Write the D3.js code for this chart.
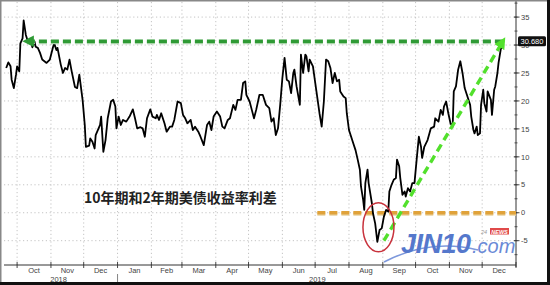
<!DOCTYPE html>
<html><head><meta charset="utf-8">
<script src="https://cdn.jsdelivr.net/npm/d3@7"></script>
<style>
html,body{margin:0;padding:0;background:#fff;}
svg{display:block;}
</style></head>
<body>
<svg id="c" width="550" height="285"></svg>
<script>
// ---- data ----
const dates = ["2018-09-21","2018-09-23","2018-09-25","2018-09-26","2018-09-28","2018-09-30","2018-10-01","2018-10-03","2018-10-04","2018-10-06","2018-10-07","2018-10-09","2018-10-11","2018-10-12","2018-10-14","2018-10-15","2018-10-17","2018-10-18","2018-10-20","2018-10-22","2018-10-24","2018-10-28","2018-10-31","2018-11-03","2018-11-04","2018-11-06","2018-11-07","2018-11-10","2018-11-12","2018-11-14","2018-11-16","2018-11-18","2018-11-20","2018-11-23","2018-11-25","2018-11-27","2018-11-30","2018-12-02","2018-12-03","2018-12-06","2018-12-07","2018-12-09","2018-12-11","2018-12-12","2018-12-16","2018-12-17","2018-12-19","2018-12-21","2018-12-23","2018-12-26","2018-12-28","2018-12-30","2018-12-31","2019-01-02","2019-01-04","2019-01-06","2019-01-09","2019-01-12","2019-01-15","2019-01-17","2019-01-19","2019-01-22","2019-01-24","2019-01-26","2019-01-28","2019-01-31","2019-02-02","2019-02-05","2019-02-06","2019-02-08","2019-02-10","2019-02-13","2019-02-15","2019-02-18","2019-02-20","2019-02-22","2019-02-25","2019-02-28","2019-03-02","2019-03-04","2019-03-06","2019-03-09","2019-03-11","2019-03-13","2019-03-16","2019-03-18","2019-03-21","2019-03-24","2019-03-26","2019-03-28","2019-03-30","2019-04-02","2019-04-05","2019-04-07","2019-04-09","2019-04-12","2019-04-14","2019-04-17","2019-04-19","2019-04-21","2019-04-24","2019-04-26","2019-04-28","2019-04-29","2019-05-02","2019-05-04","2019-05-06","2019-05-08","2019-05-11","2019-05-14","2019-05-17","2019-05-20","2019-05-22","2019-05-24","2019-05-26","2019-05-28","2019-05-30","2019-06-01","2019-06-03","2019-06-05","2019-06-07","2019-06-09","2019-06-11","2019-06-12","2019-06-14","2019-06-17","2019-06-18","2019-06-20","2019-06-22","2019-06-23","2019-06-25","2019-06-26","2019-06-29","2019-07-02","2019-07-05","2019-07-07","2019-07-09","2019-07-11","2019-07-13","2019-07-15","2019-07-17","2019-07-19","2019-07-21","2019-07-23","2019-07-24","2019-07-27","2019-07-29","2019-07-30","2019-08-01","2019-08-03","2019-08-05","2019-08-07","2019-08-09","2019-08-11","2019-08-12","2019-08-14","2019-08-15","2019-08-16","2019-08-18","2019-08-19","2019-08-22","2019-08-23","2019-08-25","2019-08-27","2019-08-29","2019-08-31","2019-09-02","2019-09-04","2019-09-06","2019-09-07","2019-09-09","2019-09-11","2019-09-13","2019-09-14","2019-09-16","2019-09-17","2019-09-19","2019-09-21","2019-09-22","2019-09-24","2019-09-26","2019-09-28","2019-09-30","2019-10-02","2019-10-04","2019-10-06","2019-10-07","2019-10-09","2019-10-12","2019-10-15","2019-10-18","2019-10-19","2019-10-22","2019-10-24","2019-10-26","2019-10-27","2019-10-29","2019-10-31","2019-11-02","2019-11-04","2019-11-05","2019-11-07","2019-11-09","2019-11-11","2019-11-13","2019-11-15","2019-11-17","2019-11-20","2019-11-21","2019-11-23","2019-11-24","2019-11-26","2019-11-27","2019-11-29","2019-11-30","2019-12-02","2019-12-03","2019-12-05","2019-12-06","2019-12-09","2019-12-10","2019-12-12","2019-12-13","2019-12-15","2019-12-16","2019-12-18","2019-12-20"];
const spread = [25.9,26.9,26.2,23.8,22.3,24.7,26.2,25.3,30.3,31.2,34.4,31.8,30.6,30.3,30.3,29.6,30.6,29.7,29.5,28.6,27.4,26.8,27.4,29.7,30.3,29.1,29.5,26.5,25.0,25.9,25.6,27.4,25.3,22.5,22.3,24.7,20.2,15.7,11.8,12.0,13.3,12.7,11.5,13.9,15.7,17.2,10.9,13.0,16.9,19.9,20.2,19.0,15.1,17.2,15.7,16.6,16.3,17.2,18.5,16.9,15.1,15.3,15.1,13.6,16.9,18.5,17.2,16.9,17.5,16.6,17.8,16.0,14.5,15.4,15.4,16.6,19.9,19.6,17.5,16.9,16.0,16.6,14.8,15.4,14.5,13.6,12.1,15.7,16.3,14.8,17.2,18.1,17.2,15.4,15.1,16.6,16.9,19.3,18.4,20.2,20.2,23.2,23.5,21.1,19.9,18.4,16.9,18.4,21.1,21.1,19.3,18.7,16.3,16.9,13.9,15.1,19.3,24.1,27.7,23.8,23.5,21.4,25.0,25.6,22.6,19.3,28.3,25.0,28.3,28.0,25.3,27.4,26.2,22.0,17.8,15.4,19.9,27.4,27.1,25.9,23.2,25.0,23.5,23.8,21.7,20.8,20.5,17.8,14.8,13.6,12.4,11.2,9.5,7.7,4.7,2.3,0.5,5.3,7.7,5.3,1.7,-0.1,-1.9,-5.2,-3.1,-2.8,-0.7,0.5,0.2,3.8,5.0,5.9,6.2,9.5,8.3,6.2,3.2,3.8,2.9,4.4,3.8,5.3,5.3,9.5,13.6,11.8,9.8,11.8,13.0,15.1,15.4,16.9,16.3,18.4,17.5,19.0,19.9,17.8,16.0,15.4,21.7,22.6,25.6,27.1,25.0,22.3,21.1,19.3,17.2,14.8,14.2,15.4,13.9,14.2,19.3,22.0,19.6,18.1,21.7,20.2,17.5,22.0,22.6,25.0,26.8,29.2,30.68];
const yTicks = [-5,0,5,10,15,20,25,30,35];
const monthLabels = ["Oct","Nov","Dec","Jan","Feb","Mar","Apr","May","Jun","Jul","Aug","Sep","Oct","Nov","Dec"];
const monthStarts = ["2018-10-01","2018-11-01","2018-12-01","2019-01-01","2019-02-01","2019-03-01","2019-04-01","2019-05-01","2019-06-01","2019-07-01","2019-08-01","2019-09-01","2019-10-01","2019-11-01","2019-12-01","2020-01-01"];
const yearLabels = ["2018","2019"];
const yearLabelDates = ["2018-11-08","2019-07-03"];
const lastLabel = "30.680";
const title = "10年期和2年期美债收益率利差";

// ---- setup ----
const parse = d3.utcParse("%Y-%m-%d");
const data = dates.map((d,i)=>({date:parse(d), v:spread[i]}));
const W=550,H=285;
const L=4, R=516, T=2, B=265;
const x = d3.scaleUtc().domain([parse("2018-09-19"), parse("2020-01-01")]).range([L,R]);
const y = d3.scaleLinear().domain([-9.35,37.7]).range([B,T]);
const svg = d3.select("#c");
const FONT = "Liberation Sans, Arial, sans-serif";

svg.append("rect").attr("width",W).attr("height",H).attr("fill","#fff");

// gridlines
const grid = svg.append("g").attr("stroke","#b5b5b5").attr("stroke-width",0.8).attr("stroke-dasharray","1.2,2.6");
grid.selectAll("line.h").data(yTicks).join("line")
  .attr("x1",L).attr("x2",R).attr("y1",d=>y(d)).attr("y2",d=>y(d));
grid.selectAll("line.v").data(monthStarts.slice(0,-1)).join("line")
  .attr("x1",d=>x(parse(d))).attr("x2",d=>x(parse(d))).attr("y1",T).attr("y2",B);

// x axis
const xa = svg.append("g").attr("transform",`translate(0,${B})`);
xa.append("line").attr("x1",L).attr("x2",R).attr("stroke","#333").attr("stroke-width",1);
xa.selectAll("line.t").data(monthStarts).join("line")
  .attr("x1",d=>x(parse(d))).attr("x2",d=>x(parse(d))).attr("y1",-3).attr("y2",3)
  .attr("stroke","#333").attr("stroke-width",0.9);
xa.selectAll("text.m").data(monthLabels).join("text")
  .attr("x",(d,i)=>(x(parse(monthStarts[i]))+x(parse(monthStarts[i+1])))/2)
  .attr("y",8).attr("text-anchor","middle")
  .attr("font-family",FONT).attr("font-size",7.5).attr("fill","#444").text(d=>d);
xa.selectAll("text.y").data(yearLabels).join("text")
  .attr("x",(d,i)=>x(parse(yearLabelDates[i])))
  .attr("y",16.5).attr("text-anchor","middle")
  .attr("font-family",FONT).attr("font-size",7.5).attr("fill","#444").text(d=>d);
xa.append("line").attr("x1",x(parse("2019-01-01"))).attr("x2",x(parse("2019-01-01"))).attr("y1",9).attr("y2",19).attr("stroke","#666").attr("stroke-width",0.8);

// y axis right
const ya = svg.append("g").attr("transform",`translate(${R},0)`);
ya.append("line").attr("y1",0).attr("y2",B+2).attr("stroke","#333").attr("stroke-width",1);
const minor = d3.range(-7.5,37.6,2.5);
ya.selectAll("line.mn").data(minor).join("line")
  .attr("x1",-1.5).attr("x2",1.5).attr("y1",d=>y(d)).attr("y2",d=>y(d)).attr("stroke","#333").attr("stroke-width",0.8);
ya.selectAll("line.mj").data(yTicks).join("line")
  .attr("x1",-2).attr("x2",3.5).attr("y1",d=>y(d)).attr("y2",d=>y(d)).attr("stroke","#333").attr("stroke-width",0.9);
ya.selectAll("text").data(yTicks).join("text")
  .attr("x",5).attr("y",d=>y(d)+2.7).attr("font-family",FONT)
  .attr("font-size",7.5).attr("fill","#444").text(d=>d);

// annotations: shadows + dashed arrows
const defs = svg.append("defs");
function marker(id,color){
  defs.append("marker").attr("id",id).attr("viewBox","0 0 10 10").attr("refX",6).attr("refY",5)
    .attr("markerWidth",3.4).attr("markerHeight",3.4).attr("orient","auto-start-reverse")
    .append("path").attr("d","M0,0 L10,5 L0,10 z").attr("fill",color);
}
marker("ag","#2f9a35");
marker("al","#52e02c");
const last = data[data.length-1];

// orange zero line
const z0 = parse("2019-07-03");
svg.append("line").attr("x1",x(z0)).attr("x2",R).attr("y1",y(0)+1.2).attr("y2",y(0)+1.2)
  .attr("stroke","#e9d2a0").attr("stroke-width",3.6).attr("stroke-dasharray","8,4");
svg.append("line").attr("x1",x(z0)).attr("x2",R).attr("y1",y(0)).attr("y2",y(0))
  .attr("stroke","#e0a23a").attr("stroke-width",3.4).attr("stroke-dasharray","8,4");

// series line
svg.append("path").datum(data).attr("fill","none").attr("stroke","#000").attr("stroke-width",1.8)
  .attr("stroke-linejoin","round")
  .attr("d",d3.line().x(d=>x(d.date)).y(d=>y(d.v)));

// dark green horizontal arrow
const hStart = parse("2018-10-10");
svg.append("line").attr("x1",x(last.date)).attr("x2",x(hStart)).attr("y1",y(last.v)+1.3).attr("y2",y(last.v)+1.3)
  .attr("stroke","#a9d4a9").attr("stroke-width",3.6).attr("stroke-dasharray","8,4");
svg.append("line").attr("x1",x(last.date)).attr("x2",x(hStart)).attr("y1",y(last.v)).attr("y2",y(last.v))
  .attr("stroke","#2f9a35").attr("stroke-width",3.4).attr("stroke-dasharray","8,4").attr("marker-end","url(#ag)");

// lime diagonal arrow
const dStart = parse("2019-09-02");
svg.append("line").attr("x1",x(dStart)).attr("y1",y(-5)).attr("x2",x(last.date)).attr("y2",y(last.v))
  .attr("stroke","#52e02c").attr("stroke-width",3.4).attr("stroke-dasharray","8,5").attr("marker-end","url(#al)");

// red ellipse
svg.append("ellipse").attr("cx",x(parse("2019-08-28"))).attr("cy",y(-2.6)).attr("rx",15.5).attr("ry",24.5)
  .attr("fill","none").attr("stroke","#c8323c").attr("stroke-width",1.5);

// last value label
const lg = svg.append("g").attr("transform",`translate(${R+2},${y(last.v)})`);
lg.append("rect").attr("x",0).attr("y",-5).attr("width",28).attr("height",10).attr("rx",1.5).attr("fill","#111");
lg.append("text").attr("x",14).attr("y",3).attr("text-anchor","middle").attr("font-family",FONT)
  .attr("font-size",7.5).attr("fill","#fff").text(lastLabel);

// title
svg.append("text").attr("x",84).attr("y",203).attr("font-family","Noto Sans CJK SC, sans-serif")
  .attr("font-weight","bold").attr("font-size",14).attr("fill","#222").text(title);

// JIN10 logo
const logo = svg.append("g");
logo.append("path").attr("d","M384,262 Q430,238 478,250").attr("fill","none").attr("stroke","#7d98dc").attr("stroke-width",1.6);
logo.append("text").attr("x",401).attr("y",253).attr("font-family",FONT)
  .attr("font-style","italic").attr("font-weight","bold").attr("font-size",27).attr("fill","#5578cc").attr("letter-spacing",-0.5).text("JIN10");
logo.append("text").attr("x",472).attr("y",253).attr("font-family",FONT)
  .attr("font-style","italic").attr("font-size",20).attr("fill","#6a8ad6").text(".com");
logo.append("text").attr("x",481).attr("y",233.5).attr("font-family",FONT)
  .attr("font-style","italic").attr("font-size",5.5).attr("fill","#999").text("24");
logo.append("rect").attr("x",490).attr("y",228).attr("width",19).attr("height",6.5).attr("fill","#e04a4a");
logo.append("text").attr("x",499.5).attr("y",233.5).attr("text-anchor","middle").attr("font-family",FONT)
  .attr("font-style","italic").attr("font-weight","bold").attr("font-size",5.5).attr("fill","#fff").text("NEWS");

// frame
svg.append("rect").attr("x",0.75).attr("y",0.75).attr("width",W-1.5).attr("height",H-1.5).attr("fill","none").attr("stroke","#888").attr("stroke-width",1.5);
svg.append("line").attr("x1",0).attr("x2",W).attr("y1",H-1.5).attr("y2",H-1.5).attr("stroke","#111").attr("stroke-width",3);
svg.append("line").attr("x1",W-1.5).attr("x2",W-1.5).attr("y1",0).attr("y2",H).attr("stroke","#111").attr("stroke-width",3);
</script>
</body></html>
